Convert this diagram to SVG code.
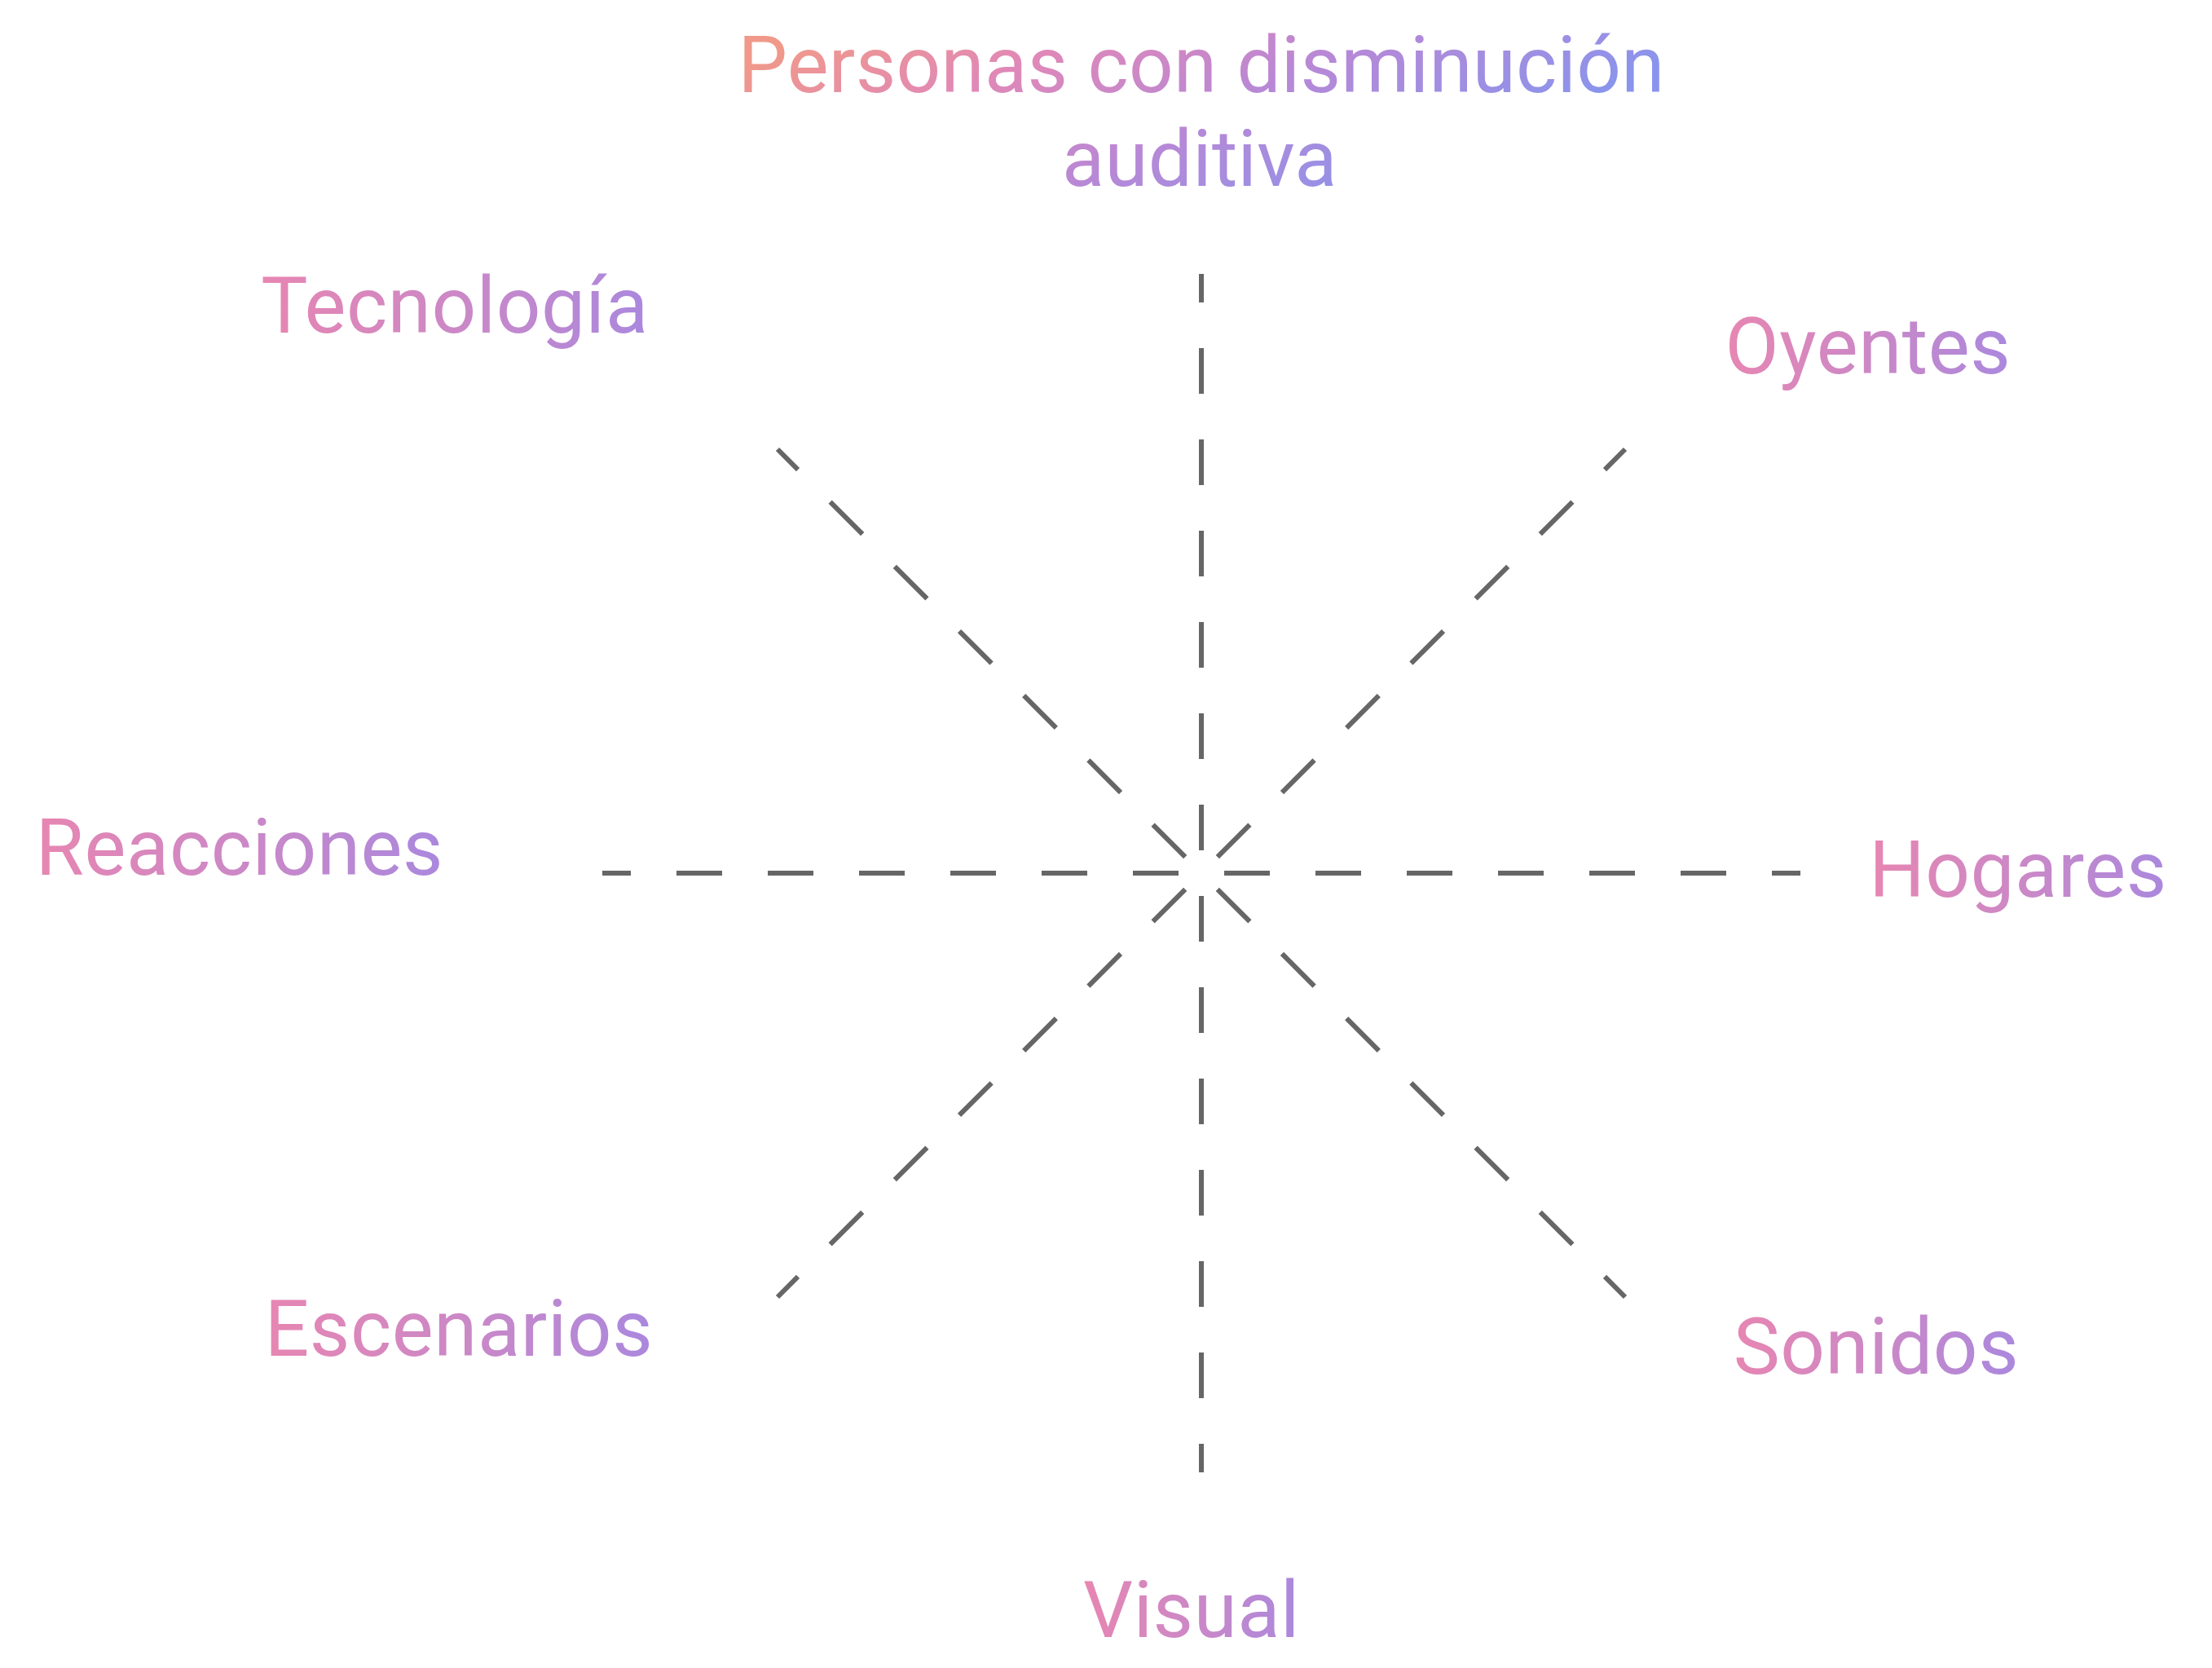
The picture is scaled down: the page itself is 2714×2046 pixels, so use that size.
<svg xmlns="http://www.w3.org/2000/svg" width="2714" height="2046" viewBox="0 0 2714 2046">
  <defs>
    <linearGradient id="gTitle" gradientUnits="userSpaceOnUse" x1="915" y1="80" x2="1149" y2="534">
      <stop offset="0" stop-color="#F0998A"/>
      <stop offset="0.3" stop-color="#E088B8"/>
      <stop offset="0.62" stop-color="#B888D6"/>
      <stop offset="1" stop-color="#8A94EC"/>
    </linearGradient>
    <linearGradient id="gLabel" x1="0" y1="0" x2="1" y2="0">
      <stop offset="0" stop-color="#E786B2"/>
      <stop offset="0.5" stop-color="#CC88C6"/>
      <stop offset="1" stop-color="#AA88DE"/>
    </linearGradient>
    <style>
      .lbl { font-family: Roboto, "Liberation Sans", sans-serif; font-size: 96px; letter-spacing: 0.6px; text-anchor: middle; fill: url(#gLabel); }
      .ttl { font-family: Roboto, "Liberation Sans", sans-serif; font-size: 96px; letter-spacing: 0.3px; text-anchor: middle; fill: url(#gTitle); }
      .ray { stroke: #666666; stroke-width: 6; fill: none; stroke-dasharray: 56 56; stroke-dashoffset: 84; }
    </style>
  </defs>
  <rect width="2714" height="2046" fill="#ffffff"/>
  <g id="connectors">
    <path class="ray" d="M1474 1071 L1474 336"/>
    <path class="ray" d="M1474 1071 L1474 1806"/>
    <path class="ray" d="M1474 1071 L739 1071"/>
    <path class="ray" d="M1474 1071 L2209 1071"/>
    <path class="ray" d="M1474 1071 L954 551"/>
    <path class="ray" d="M1474 1071 L1994 551"/>
    <path class="ray" d="M1474 1071 L954 1591"/>
    <path class="ray" d="M1474 1071 L1994 1591"/>
  </g>
  <g id="node-center">
    <text class="ttl"><tspan x="1474" y="113">Personas con disminución</tspan><tspan x="1472" y="228">auditiva</tspan></text>
  </g>
  <g id="node-tecnologia"><text class="lbl" x="558" y="408">Tecnología</text></g>
  <g id="node-oyentes"><text class="lbl" x="2292" y="458">Oyentes</text></g>
  <g id="node-reacciones"><text class="lbl" x="294" y="1073">Reacciones</text></g>
  <g id="node-hogares"><text class="lbl" x="2476" y="1100">Hogares</text></g>
  <g id="node-escenarios"><text class="lbl" x="563" y="1663">Escenarios</text></g>
  <g id="node-sonidos"><text class="lbl" x="2302" y="1685">Sonidos</text></g>
  <g id="node-visual"><text class="lbl" x="1462" y="2008">Visual</text></g>
</svg>
